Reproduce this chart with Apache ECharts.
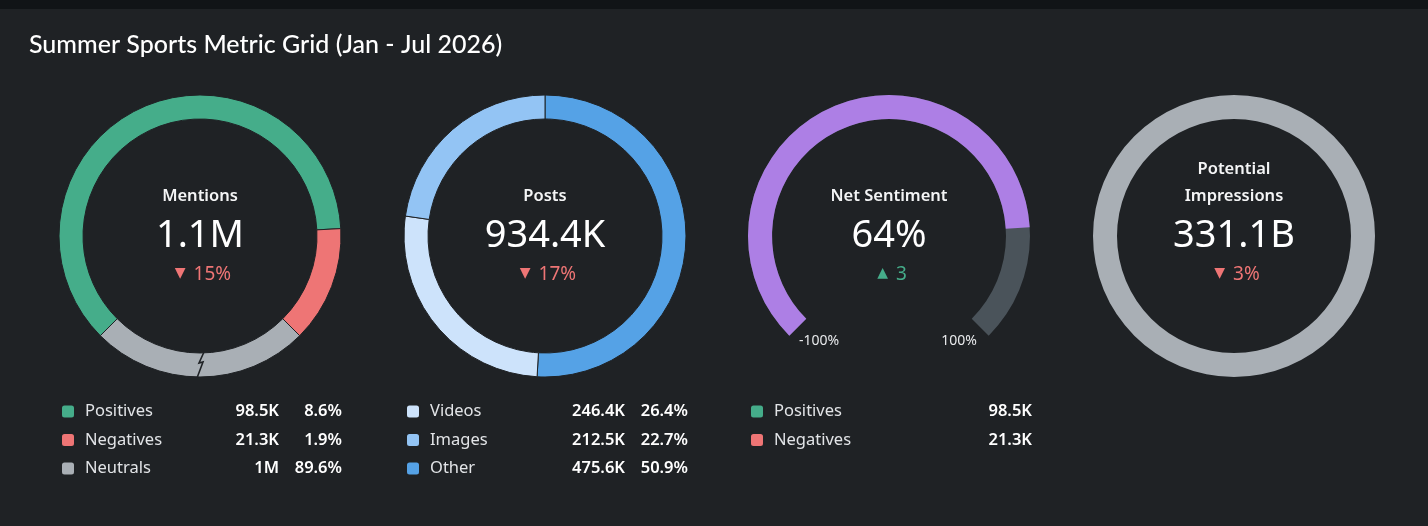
<!DOCTYPE html>
<html>
<head>
<meta charset="utf-8">
<script src="https://cdn.jsdelivr.net/npm/echarts@6/dist/echarts.min.js"></script>
<style>
html,body{margin:0;padding:0;background:#1f2225;}
#chart{width:1428px;height:526px;}
</style>
</head>
<body>
<div id="chart"></div>
<script>
// ---- data ----
var chartTitle = 'Summer Sports Metric Grid (Jan - Jul 2026)';
var panelTitles = [['Mentions'], ['Posts'], ['Net Sentiment'], ['Potential', 'Impressions']];
var kpiValues = ['1.1M', '934.4K', '64%', '331.1B'];
var kpiChanges = [-15, -17, 3, -3];
var kpiChangeUnits = ['%', '%', '', '%'];

var mentionNames = ['Positives', 'Negatives', 'Neutrals'];
var mentionValues = [98500, 21300, 1028000];

var postNames = ['Videos', 'Images', 'Other'];
var postValues = [246400, 212500, 475600];

var sentimentValue = 64;
var sentimentMin = -100;
var sentimentMax = 100;
var sentimentTickLabels = ['-100%', '100%'];
var sentimentNames = ['Positives', 'Negatives'];
var sentimentValues = [98500, 21300];

var impressionsValue = [331100000000];

// ---- styling ----
var BG = '#1f2225';
var C = {
  Positives: '#45ad8a', Negatives: '#ee7575', Neutrals: '#a9afb5',
  Videos: '#cde3fb', Images: '#93c4f4', Other: '#55a2e6'
};
var centersX = [200, 545, 889, 1234];
var cy = 236;
var rIn = 117, rOut = 141;

function fmt(v) {
  var units = [[1e9, 'B'], [1e6, 'M'], [1e3, 'K']];
  for (var i = 0; i < units.length; i++) {
    if (v >= units[i][0]) {
      var s = (v / units[i][0]).toFixed(1);
      if (s.slice(-2) === '.0') s = s.slice(0, -2);
      return s + units[i][1];
    }
  }
  return String(v);
}
function pct(v, arr) {
  var t = arr.reduce(function (a, b) { return a + b; }, 0);
  return (v / t * 100).toFixed(1) + '%';
}

// Mentions ring uses a broken scale: neutrals are capped to a quarter of the ring
var othersSum = mentionValues[0] + mentionValues[1];
var mentionDisplay = mentionNames.map(function (n, i) {
  var dv = n === 'Neutrals' ? 0.25 : 0.75 * mentionValues[i] / othersSum;
  return { name: n, value: dv, itemStyle: { color: C[n] } };
});

var postOrder = ['Other', 'Videos', 'Images'];
var postData = postOrder.map(function (n) {
  return { name: n, value: postValues[postNames.indexOf(n)], itemStyle: { color: C[n] } };
});

var FONT = '"Noto Sans", "Open Sans", sans-serif';

function legendFor(names, values, left, nW, vW, pW, showPct) {
  return {
    orient: 'vertical', left: left, top: 403, padding: 0,
    itemWidth: 14, itemHeight: 14, itemGap: 11.5, icon: 'roundRect',
    selectedMode: false,
    data: names,
    textStyle: {
      color: '#e2e4e7', fontFamily: FONT, fontSize: 16.5, lineHeight: 14,
      rich: {
        s: { width: 5 },
        n: { width: nW, fontSize: 16.5, color: '#e2e4e7', fontFamily: FONT, lineHeight: 14 },
        v: { width: vW, align: 'right', fontSize: 16.5, fontWeight: 600, color: '#ffffff', fontFamily: FONT, lineHeight: 14 },
        p: { width: pW, align: 'right', fontSize: 16.5, fontWeight: 600, color: '#ffffff', fontFamily: FONT, lineHeight: 14 }
      }
    },
    formatter: function (name) {
      var i = names.indexOf(name);
      var s = '{s| }{n|' + name + '}{v|' + fmt(values[i]) + '}';
      if (showPct) s += '{p|' + pct(values[i], values) + '}';
      return s;
    }
  };
}

var graphics = [
  { type: 'rect', shape: { x: 0, y: 0, width: 1428, height: 9 }, style: { fill: '#111417' }, silent: true }
];
// zigzag break marker on the mentions ring
var zx = centersX[0];
graphics.push({
  type: 'polyline', silent: true, z: 100,
  shape: { points: [[zx + 4, cy + rIn - 1], [zx - 1, cy + rIn + 10], [zx + 3, cy + rIn + 9], [zx - 3, cy + rOut + 1]] },
  style: { stroke: BG, lineWidth: 1.6, fill: null }
});

panelTitles.forEach(function (lines, i) {
  var x = centersX[i];
  if (lines.length === 1) {
    graphics.push({ type: 'text', silent: true, x: x, y: 196, style: { text: lines[0], fill: '#f4f5f6', font: '600 16.5px ' + FONT, align: 'center', verticalAlign: 'middle' } });
  } else {
    graphics.push({ type: 'text', silent: true, x: x, y: 169, style: { text: lines[0], fill: '#f4f5f6', font: '600 16.5px ' + FONT, align: 'center', verticalAlign: 'middle' } });
    graphics.push({ type: 'text', silent: true, x: x, y: 196, style: { text: lines[1], fill: '#f4f5f6', font: '600 16.5px ' + FONT, align: 'center', verticalAlign: 'middle' } });
  }
  graphics.push({ type: 'text', silent: true, x: x, y: 236, style: { text: kpiValues[i], fill: '#ffffff', font: '38px ' + FONT, align: 'center', verticalAlign: 'middle' } });
  var up = kpiChanges[i] > 0;
  var col = up ? '#45ad8a' : '#ee7575';
  graphics.push({
    type: 'text', silent: true, x: x + 3, y: 275,
    style: {
      text: '{t|' + (up ? '▲' : '▼') + '}{g| }{v|' + Math.abs(kpiChanges[i]) + kpiChangeUnits[i] + '}',
      align: 'center', verticalAlign: 'middle',
      rich: {
        t: { fontFamily: '"DejaVu Sans"', fontSize: 14, fill: col, padding: [0, 0, 3, 0] },
        g: { width: 8 },
        v: { fontFamily: FONT, fontSize: 19, fill: col }
      }
    }
  });
});
graphics.push({ type: 'text', silent: true, x: centersX[2] - 70, y: 341, style: { text: sentimentTickLabels[0], fill: '#e8eaec', font: '14px ' + FONT, align: 'center', verticalAlign: 'middle' } });
graphics.push({ type: 'text', silent: true, x: centersX[2] + 70, y: 341, style: { text: sentimentTickLabels[1], fill: '#e8eaec', font: '14px ' + FONT, align: 'center', verticalAlign: 'middle' } });

var option = {
  backgroundColor: BG,
  animation: false,
  title: {
    text: chartTitle, left: 24, top: 27,
    textStyle: { color: '#ffffff', fontFamily: 'Lato, "Noto Sans", sans-serif', fontWeight: 500, fontSize: 25 }
  },
  legend: [
    legendFor(mentionNames, mentionValues, 60, 130, 64, 63, true),
    legendFor(postNames, postValues, 405, 130, 65, 63, true),
    legendFor(sentimentNames, sentimentValues, 749, 130, 128, 0, false)
  ],
  series: [
    {
      type: 'pie', center: [centersX[0], cy], radius: [rIn, rOut], startAngle: 225, clockwise: true,
      label: { show: false }, labelLine: { show: false }, silent: true,
      itemStyle: { borderColor: BG, borderWidth: 1 },
      data: mentionDisplay
    },
    {
      type: 'pie', center: [centersX[1], cy], radius: [rIn, rOut], startAngle: 90, clockwise: true,
      label: { show: false }, labelLine: { show: false }, silent: true,
      itemStyle: { borderColor: BG, borderWidth: 1 },
      data: postData
    },
    {
      type: 'gauge', center: [centersX[2], cy], radius: rOut, startAngle: 225, endAngle: -45,
      min: sentimentMin, max: sentimentMax,
      axisLine: { lineStyle: { width: rOut - rIn, color: [[1, '#4a535a']] } },
      progress: { show: true, width: rOut - rIn, itemStyle: { color: '#ad7fe5' } },
      pointer: { show: false }, axisTick: { show: false }, splitLine: { show: false },
      axisLabel: { show: false }, detail: { show: false }, title: { show: false },
      silent: true,
      data: [{ value: sentimentValue }]
    },
    {
      type: 'pie', center: [centersX[3], cy], radius: [rIn, rOut], startAngle: 90,
      label: { show: false }, labelLine: { show: false }, silent: true,
      itemStyle: { color: '#a9afb5' },
      data: [{ name: 'Potential Impressions', value: impressionsValue[0] }]
    }
  ],
  graphic: graphics
};

var chart = echarts.init(document.getElementById('chart'), null, { renderer: 'canvas' });
chart.setOption(option);
</script>
</body>
</html>
